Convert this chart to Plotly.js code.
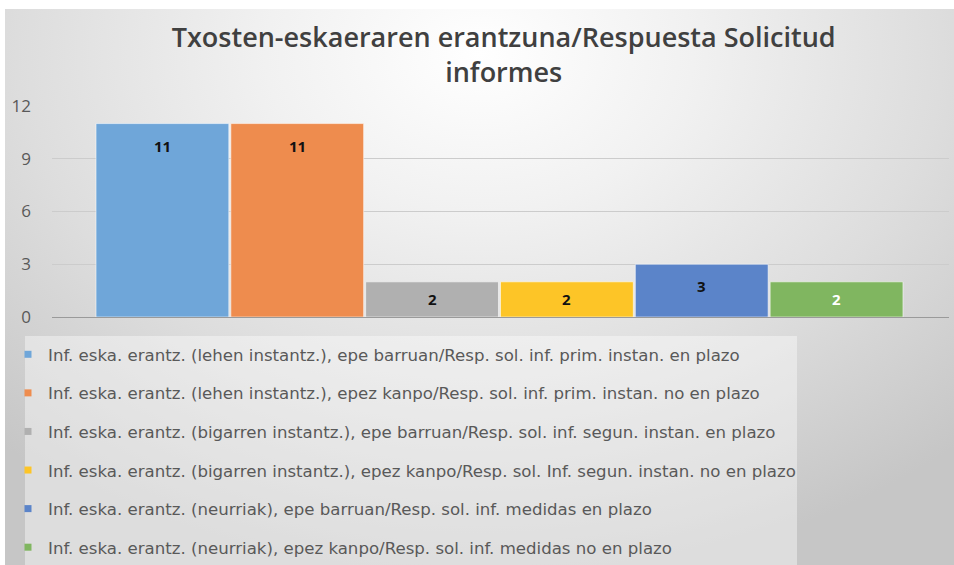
<!DOCTYPE html>
<html>
<head>
<meta charset="utf-8">
<script src="https://cdn.plot.ly/plotly-3.0.1.min.js"></script>
<style>
  html, body { margin: 0; padding: 0; background: #ffffff; }
  #wrap { position: relative; width: 954px; height: 565px; overflow: hidden; }
  #bg { position: absolute; left: 5px; top: 9px; width: 949px; height: 556px;
        background: radial-gradient(ellipse 75% 95% at 50% 8%, #ffffff 0%, #f1f1f1 30%, #dddddd 65%, #c6c6c6 100%); }
  #chart { position: absolute; left: 0; top: 0; width: 954px; height: 565px; }
</style>
</head>
<body>
<div id="wrap"><div id="bg"></div><div id="chart"></div></div>
<script>
const seriesNames = [
  "Inf. eska. erantz. (lehen instantz.), epe barruan/Resp. sol. inf. prim. instan. en plazo",
  "Inf. eska. erantz. (lehen instantz.), epez kanpo/Resp. sol. inf. prim. instan. no en plazo",
  "Inf. eska. erantz. (bigarren instantz.), epe barruan/Resp. sol. inf. segun. instan. en plazo",
  "Inf. eska. erantz. (bigarren instantz.), epez kanpo/Resp. sol. Inf. segun. instan. no en plazo",
  "Inf. eska. erantz. (neurriak), epe barruan/Resp. sol. inf. medidas en plazo",
  "Inf. eska. erantz. (neurriak), epez kanpo/Resp. sol. inf. medidas no en plazo"
];
const seriesValues = [11, 11, 2, 2, 3, 2];
const yTickValues = [0, 3, 6, 9, 12];
const chartTitle = "Txosten-eskaeraren erantzuna/Respuesta Solicitud<br>informes";

const seriesColors = ["#6fa6d9", "#ee8c4e", "#b0b0b0", "#fdc527", "#5b84c9", "#80b660"];
const labelColors = ["#111111", "#111111", "#111111", "#111111", "#111111", "#ffffff"];

const M = { l: 52, r: 5, t: 106, b: 248, autoexpand: false };
const plotH = 565 - M.t - M.b;
const yMax = 12;
const pxPerUnit = plotH / yMax;

const traces = [];
seriesValues.forEach((v, i) => {
  traces.push({
    type: 'bar', x: [i], y: [v], width: 0.985,
    name: seriesNames[i], showlegend: false,
    marker: { color: seriesColors[i], line: { color: 'rgba(255,255,255,0.55)', width: 1 } },
    hoverinfo: 'y+name'
  });
});
seriesNames.forEach((n, i) => {
  traces.push({
    type: 'scatter', mode: 'markers', x: [null], y: [null],
    name: n, legendgroup: 'g' + i, showlegend: true,
    marker: { symbol: 'square', size: 7, color: seriesColors[i] }
  });
});

const annotations = seriesValues.map((v, i) => ({
  x: i, y: v, xref: 'x', yref: 'y', text: String(v), showarrow: false,
  yanchor: 'middle', yshift: -Math.min(22, v * pxPerUnit / 2),
  font: { family: 'Open Sans', size: 15, weight: 700, color: labelColors[i] }
}));

const layout = {
  width: 954, height: 565,
  margin: M,
  paper_bgcolor: 'rgba(0,0,0,0)',
  plot_bgcolor: 'rgba(0,0,0,0)',
  barmode: 'overlay',
  title: {
    text: chartTitle,
    font: { family: 'Open Sans', size: 27, weight: 600, color: '#404040' },
    x: 0.528, xanchor: 'center', xref: 'container',
    y: 1 - 47 / 565, yanchor: 'top', yref: 'container'
  },
  xaxis: {
    range: [-0.819, 5.834], showticklabels: false, showgrid: false,
    zeroline: false, showline: false, fixedrange: true
  },
  yaxis: {
    range: [0, yMax], tickvals: yTickValues, ticktext: yTickValues.map(String),
    showgrid: true, gridcolor: '#cccccc', gridwidth: 1,
    zeroline: true, zerolinecolor: '#9a9a9a', zerolinewidth: 1,
    showline: false, ticks: '', ticklabelstandoff: 20,
    tickfont: { family: 'Open Sans', size: 17, color: '#595959' }
  },
  showlegend: true,
  legend: {
    xref: 'container', yref: 'container',
    x: 8 / 954, y: 1 - 337 / 565, xanchor: 'left', yanchor: 'top',
    bgcolor: 'rgba(0,0,0,0)', borderwidth: 0,
    font: { family: 'DejaVu Sans', size: 16.6, color: '#595959' },
    tracegroupgap: 14, traceorder: 'grouped'
  },
  shapes: [{
    type: 'rect', xref: 'paper', yref: 'paper', layer: 'below',
    x0: (25 - M.l) / (954 - M.l - M.r), x1: (797 - M.l) / (954 - M.l - M.r),
    y0: (317 - 565) / plotH, y1: (317 - 336) / plotH,
    fillcolor: 'rgba(255,255,255,0.4)', line: { width: 0 }
  }],
  annotations: annotations
};

Plotly.newPlot('chart', traces, layout, { displayModeBar: false, staticPlot: true });
</script>
</body>
</html>
